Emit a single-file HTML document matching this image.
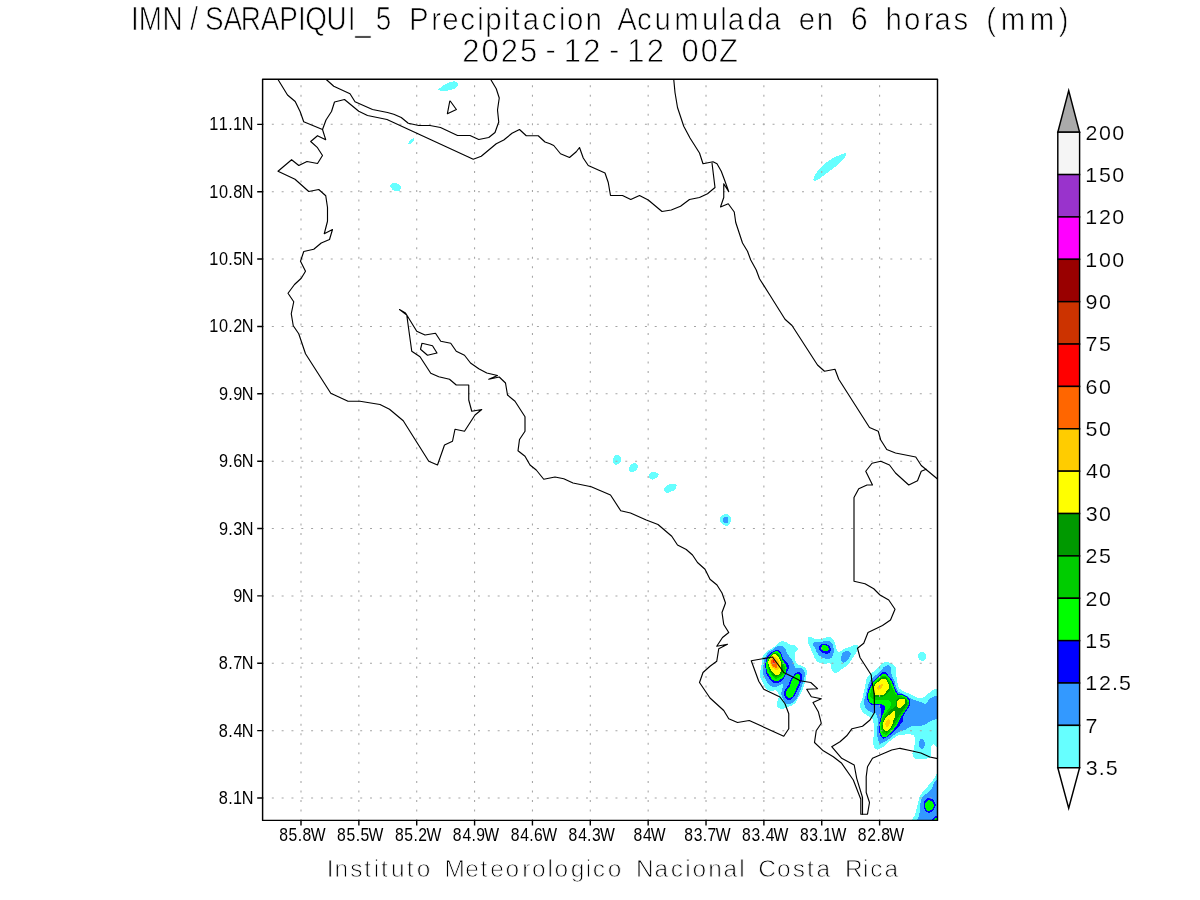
<!DOCTYPE html>
<html lang="es"><head><meta charset="utf-8"><title>IMN/SARAPIQUI_5 Precipitacion Acumulada en 6 horas (mm)</title>
<style>html,body{margin:0;padding:0;background:#fff}body{width:1200px;height:900px;overflow:hidden}svg{display:block}text{font-family:"Liberation Sans",sans-serif;fill:#000}.tt text{stroke:#fff;stroke-width:.75px}.ft text{fill:#000;stroke:#fff;stroke-width:.8px}.cb text{stroke:#fff;stroke-width:.15px}</style></head><body>
<svg width="1200" height="900" viewBox="0 0 1200 900">
<rect width="1200" height="900" fill="#fff"/>
<g class="tt">
<text transform="translate(0 30) scale(0.85 1)" x="154.02 163.2 191.29 223.73 241.33 262.96 283.32 306.82 328.44 350.62 359.21 384.07 409.1 418.1 441.97" dy="0 0 0 0 0 0 0 0 0 0 0 0 0 1 -1" font-size="32.8">IMN/SARAPIQUI_5</text>
<text transform="translate(0 30) scale(0.93 1)" x="439.93 463.71 475.56 494.92 513.24 521.65 541.43 550.33 562.06 582.65 600.97 609.77 629.62" font-size="31.6">Precipitacion</text>
<text transform="translate(0 30) scale(0.93 1)" x="663.83 685 703.77 725.02 754.95 774.34 782.44 803.39 822.13" font-size="31.6">Acumulada</text>
<text transform="translate(0 30) scale(0.93 1)" x="858.87 878.19" font-size="31.6">en</text>
<text transform="translate(0 30) scale(0.93 1)" x="914.86" font-size="32.8">6</text>
<text transform="translate(0 30) scale(0.93 1)" x="952.27 972.19 993.24 1004.9 1025.36" font-size="31.6">horas</text>
<text transform="translate(0 30) scale(0.93 1)" x="1060.52 1075.95 1107.28 1138.43" font-size="31.6">(mm)</text>
<text transform="translate(0 62.1) scale(0.95 1)" x="486.51 506.76 527.01 547.25 574.12 593.41 614.07 640.93 660.22 680.88" dy="0 0 0 0 -1.2 1.2 0 -1.2 1.2 0" font-size="32.6">2025-12-12</text>
<text transform="translate(0 62.1) scale(0.95 1)" x="717.32 737.57 756.92" font-size="32.6">00Z</text>
</g>
<defs><clipPath id="fr"><rect x="262.6" y="79.3" width="674.9" height="741.1"/></clipPath></defs>
<g clip-path="url(#fr)" shape-rendering="crispEdges">
<path fill="#66ffff" d="M438 90C437.38 89.37 439.72 88.17 441.3 87C442.88 85.83 445.42 83.95 447.5 83C449.58 82.05 452.13 81.3 453.8 81.3C455.47 81.3 456.97 82.05 457.5 83C458.03 83.95 457.83 85.92 457 87C456.17 88.08 454.5 88.87 452.5 89.5C450.5 90.13 447.42 90.72 445 90.8C442.58 90.88 438.62 90.63 438 90Z"/>
<path fill="#66ffff" d="M408.2 143.9C408.37 143.22 409.28 141.3 410.2 140.3C411.12 139.3 413.07 137.98 413.7 137.9C414.33 137.82 414.35 138.95 414 139.8C413.65 140.65 412.4 142.23 411.6 143C410.8 143.77 409.77 144.25 409.2 144.4C408.63 144.55 408.03 144.58 408.2 143.9Z"/>
<path fill="#66ffff" d="M390 185C390.33 184.03 392.33 183.12 393.8 183C395.27 182.88 397.55 183.63 398.8 184.3C400.05 184.97 401.18 185.92 401.3 187C401.42 188.08 400.55 190.08 399.5 190.8C398.45 191.52 396.28 191.63 395 191.3C393.72 190.97 392.63 189.85 391.8 188.8C390.97 187.75 389.67 185.97 390 185Z"/>
<path fill="#66ffff" d="M813.25 179.5C813.33 178.08 815.33 174.46 817 172C818.67 169.54 820.75 166.96 823.25 164.75C825.75 162.54 829 160.46 832 158.75C835 157.04 838.88 155.42 841.25 154.5C843.62 153.58 845.71 152.67 846.25 153.25C846.79 153.83 845.83 156.12 844.5 158C843.17 159.88 840.54 162.46 838.25 164.5C835.96 166.54 833.25 168.38 830.75 170.25C828.25 172.12 825.62 174.04 823.25 175.75C820.88 177.46 818.17 179.88 816.5 180.5C814.83 181.12 813.17 180.92 813.25 179.5Z"/>
<path fill="#66ffff" d="M616.92 455.03C617.85 454.97 619.15 455.32 619.83 456.08C620.51 456.84 621 458.41 621 459.58C621 460.75 620.61 462.2 619.83 463.08C619.05 463.95 617.34 464.77 616.33 464.83C615.32 464.89 614.31 464.25 613.77 463.43C613.23 462.61 612.99 461.1 613.07 459.93C613.15 458.76 613.59 457.25 614.23 456.43C614.87 455.61 615.99 455.09 616.92 455.03Z"/>
<path fill="#66ffff" d="M633.83 463.08C634.8 462.98 636.07 463.57 636.75 464.25C637.43 464.93 638.12 466.1 637.92 467.17C637.72 468.24 636.55 469.85 635.58 470.67C634.61 471.49 633.11 472.07 632.08 472.07C631.05 472.07 629.88 471.39 629.4 470.67C628.91 469.95 628.92 468.72 629.17 467.75C629.42 466.78 630.14 465.61 630.92 464.83C631.7 464.05 632.86 463.18 633.83 463.08Z"/>
<path fill="#66ffff" d="M653.08 472.07C654.21 471.99 656.24 472.32 657.17 472.77C658.1 473.22 658.78 473.93 658.68 474.75C658.58 475.57 657.51 476.85 656.58 477.67C655.65 478.49 654.19 479.55 653.08 479.65C651.97 479.75 650.61 478.93 649.93 478.25C649.25 477.57 648.92 476.41 649 475.57C649.08 474.73 649.72 473.81 650.4 473.23C651.08 472.65 651.95 472.15 653.08 472.07Z"/>
<path fill="#66ffff" d="M670 484.08C671.42 483.79 674.14 483.79 675.25 484.08C676.36 484.37 676.65 484.95 676.65 485.83C676.65 486.7 676.16 488.36 675.25 489.33C674.34 490.3 672.53 491.09 671.17 491.67C669.81 492.25 668.21 492.93 667.08 492.83C665.95 492.73 664.85 491.82 664.4 491.08C663.95 490.34 664.01 489.27 664.4 488.4C664.79 487.52 665.8 486.55 666.73 485.83C667.66 485.11 668.58 484.37 670 484.08Z"/>
<path fill="#66ffff" d="M725.42 514.07C726.53 514.03 728.01 514.36 728.92 515C729.83 515.64 730.61 516.75 730.9 517.92C731.19 519.09 731 520.83 730.67 522C730.34 523.17 729.79 524.3 728.92 524.92C728.04 525.54 726.53 525.83 725.42 525.73C724.31 525.63 723.11 525.05 722.27 524.33C721.43 523.61 720.71 522.55 720.4 521.42C720.09 520.29 720.09 518.6 720.4 517.57C720.71 516.54 721.43 515.81 722.27 515.23C723.11 514.65 724.31 514.11 725.42 514.07Z"/>
<path fill="#3399ff" d="M723.9 517.1C724.64 516.58 727.01 516.58 727.75 517.1C728.49 517.62 728.33 519.34 728.33 520.25C728.33 521.16 728.43 522.19 727.75 522.58C727.07 522.97 724.99 522.97 724.25 522.58C723.51 522.19 723.38 521.16 723.32 520.25C723.26 519.34 723.16 517.62 723.9 517.1Z"/>
<path fill="#66ffff" d="M922.08 652.08C923.05 652.08 924.35 652.63 925 653.33C925.65 654.03 926 655.21 926 656.25C926 657.29 925.65 658.82 925 659.58C924.35 660.34 923.05 660.83 922.08 660.83C921.11 660.83 919.82 660.34 919.17 659.58C918.52 658.82 918.17 657.29 918.17 656.25C918.17 655.21 918.52 654.03 919.17 653.33C919.82 652.63 921.11 652.08 922.08 652.08Z"/>
<path fill="#66ffff" d="M782.92 641.25C784.03 641.32 785.35 641.88 786.67 642.5C787.99 643.12 789.44 644.51 790.83 645C792.22 645.49 793.89 644.87 795 645.42C796.11 645.97 797.15 647.43 797.5 648.33C797.85 649.23 797.5 650.07 797.08 650.83C796.66 651.6 795.35 651.53 795 652.92C794.65 654.31 794.58 657.29 795 659.17C795.42 661.04 796.39 663.06 797.5 664.17C798.61 665.28 800.28 665.14 801.67 665.83C803.06 666.52 805 667.22 805.83 668.33C806.66 669.44 806.67 670.56 806.67 672.5C806.67 674.44 806.25 677.92 805.83 680C805.41 682.08 804.86 683.06 804.17 685C803.48 686.94 802.64 689.59 801.67 691.67C800.7 693.75 799.44 695.56 798.33 697.5C797.22 699.44 796.25 701.94 795 703.33C793.75 704.72 792.22 705.13 790.83 705.83C789.44 706.53 787.92 707.01 786.67 707.5C785.42 707.99 784.44 708.54 783.33 708.75C782.22 708.96 780.97 709.1 780 708.75C779.03 708.4 777.99 707.57 777.5 706.67C777.01 705.77 777.01 704.58 777.08 703.33C777.15 702.08 777.57 700.35 777.92 699.17C778.27 697.99 779.38 697.64 779.17 696.25C778.96 694.86 777.5 691.8 776.67 690.83C775.84 689.86 775.28 690.42 774.17 690.42C773.06 690.42 771.39 691.18 770 690.83C768.61 690.48 766.8 689.3 765.83 688.33C764.86 687.36 765 686.53 764.17 685C763.34 683.47 761.6 680.97 760.83 679.17C760.07 677.37 759.58 675.98 759.58 674.17C759.58 672.36 760.41 670.28 760.83 668.33C761.25 666.38 761.8 664.31 762.08 662.5C762.36 660.69 762.01 659.03 762.5 657.5C762.99 655.97 763.89 654.58 765 653.33C766.11 652.08 767.78 650.97 769.17 650C770.56 649.03 771.94 648.47 773.33 647.5C774.72 646.53 776.39 645.07 777.5 644.17C778.61 643.27 779.1 642.57 780 642.08C780.9 641.59 781.81 641.18 782.92 641.25Z"/>
<path fill="#3399ff" d="M780 646.25C781.11 646.25 782.36 646.04 783.33 646.67C784.3 647.29 785.13 648.75 785.83 650C786.53 651.25 786.67 652.78 787.5 654.17C788.33 655.56 789.86 656.94 790.83 658.33C791.8 659.72 792.77 661.25 793.33 662.5C793.89 663.75 793.61 664.86 794.17 665.83C794.73 666.8 795.42 667.91 796.67 668.33C797.92 668.75 800.42 667.91 801.67 668.33C802.92 668.75 803.62 669.86 804.17 670.83C804.72 671.8 805.07 672.64 805 674.17C804.93 675.7 804.31 677.92 803.75 680C803.19 682.08 802.43 684.45 801.67 686.67C800.91 688.89 800.14 691.11 799.17 693.33C798.2 695.55 797.08 698.33 795.83 700C794.58 701.67 792.92 702.63 791.67 703.33C790.42 704.03 789.44 704.31 788.33 704.17C787.22 704.03 785.97 703.47 785 702.5C784.03 701.53 783.12 699.86 782.5 698.33C781.88 696.8 781.25 695 781.25 693.33C781.25 691.66 782.15 689.86 782.5 688.33C782.85 686.8 783.75 684.72 783.33 684.17C782.91 683.62 781.11 684.58 780 685C778.89 685.42 777.92 686.39 776.67 686.67C775.42 686.95 773.89 687.09 772.5 686.67C771.11 686.25 769.58 685.56 768.33 684.17C767.08 682.78 765.9 680.14 765 678.33C764.1 676.52 763.2 675.27 762.92 673.33C762.64 671.39 763.12 668.75 763.33 666.67C763.54 664.59 763.75 662.64 764.17 660.83C764.59 659.02 765 657.36 765.83 655.83C766.66 654.3 767.92 652.78 769.17 651.67C770.42 650.56 772.08 650 773.33 649.17C774.58 648.34 775.56 647.16 776.67 646.67C777.78 646.18 778.89 646.25 780 646.25Z"/>
<path fill="#0000ff" d="M775.83 650C777.29 649.65 778.61 650.13 779.58 650.83C780.55 651.53 781.04 652.78 781.67 654.17C782.29 655.56 782.5 657.78 783.33 659.17C784.16 660.56 785.7 661.39 786.67 662.5C787.64 663.61 788.75 664.86 789.17 665.83C789.59 666.8 789.59 667.22 789.17 668.33C788.75 669.44 787.37 671.11 786.67 672.5C785.97 673.89 785.83 675.28 785 676.67C784.17 678.06 783.06 679.72 781.67 680.83C780.28 681.94 778.06 683.05 776.67 683.33C775.28 683.61 774.58 683.33 773.33 682.5C772.08 681.67 770.35 679.86 769.17 678.33C767.99 676.8 766.88 675.27 766.25 673.33C765.62 671.39 765.49 668.75 765.42 666.67C765.35 664.59 765.62 662.36 765.83 660.83C766.04 659.3 765.84 658.82 766.67 657.5C767.5 656.18 769.3 654.17 770.83 652.92C772.36 651.67 774.37 650.35 775.83 650Z"/>
<path fill="#00ff00" d="M775.83 651.25C777.08 650.97 778.27 651.32 779.17 652.08C780.07 652.84 780.69 654.51 781.25 655.83C781.81 657.15 781.81 658.68 782.5 660C783.19 661.32 784.72 662.5 785.42 663.75C786.12 665 786.6 666.18 786.67 667.5C786.74 668.82 786.25 670.28 785.83 671.67C785.41 673.06 785 674.58 784.17 675.83C783.34 677.08 782.08 678.27 780.83 679.17C779.58 680.07 777.92 681.04 776.67 681.25C775.42 681.46 774.44 681.18 773.33 680.42C772.22 679.66 771.04 678.13 770 676.67C768.96 675.21 767.71 673.48 767.08 671.67C766.46 669.86 766.32 667.64 766.25 665.83C766.18 664.02 766.39 662.15 766.67 660.83C766.95 659.51 767.09 659.1 767.92 657.92C768.75 656.74 770.35 654.86 771.67 653.75C772.99 652.64 774.58 651.53 775.83 651.25Z"/>
<path fill="#00cc00" d="M773.33 652.92C774.44 652.5 776.39 652.43 777.5 652.92C778.61 653.4 779.31 654.65 780 655.83C780.69 657.01 780.97 658.47 781.67 660C782.37 661.53 783.62 663.61 784.17 665C784.72 666.39 785 667.08 785 668.33C785 669.58 784.59 671.39 784.17 672.5C783.75 673.61 783.33 674.17 782.5 675C781.67 675.83 780.28 676.88 779.17 677.5C778.06 678.12 776.8 678.89 775.83 678.75C774.86 678.61 774.3 677.71 773.33 676.67C772.36 675.63 770.83 673.89 770 672.5C769.17 671.11 768.75 670 768.33 668.33C767.91 666.66 767.5 664.03 767.5 662.5C767.5 660.97 767.78 660.35 768.33 659.17C768.88 657.99 770 656.46 770.83 655.42C771.66 654.38 772.22 653.34 773.33 652.92Z"/>
<path fill="#009900" d="M773.33 653.5C774.34 653.22 776.04 653.4 777.08 654C778.12 654.6 778.88 655.87 779.58 657.08C780.28 658.29 780.69 659.79 781.25 661.25C781.81 662.71 782.6 664.37 782.92 665.83C783.24 667.29 783.38 668.68 783.17 670C782.96 671.32 782.54 672.71 781.67 673.75C780.79 674.79 778.96 675.76 777.92 676.25C776.88 676.74 776.25 676.88 775.42 676.67C774.59 676.46 773.75 675.83 772.92 675C772.09 674.17 771.12 672.92 770.42 671.67C769.72 670.42 769.17 669.03 768.75 667.5C768.33 665.97 767.92 663.89 767.92 662.5C767.92 661.11 768.24 660.31 768.75 659.17C769.26 658.03 770.24 656.62 771 655.67C771.76 654.72 772.32 653.78 773.33 653.5Z"/>
<path fill="#ffff00" d="M773.33 654.17C774.23 654.03 775.7 654.31 776.67 655C777.64 655.69 778.48 657.08 779.17 658.33C779.86 659.58 780.48 660.83 780.83 662.5C781.18 664.17 781.25 666.8 781.25 668.33C781.25 669.86 781.18 670.7 780.83 671.67C780.48 672.64 779.86 673.62 779.17 674.17C778.48 674.72 777.5 675.07 776.67 675C775.84 674.93 775 674.44 774.17 673.75C773.34 673.06 772.5 672.01 771.67 670.83C770.84 669.65 769.73 668.06 769.17 666.67C768.61 665.28 768.33 663.75 768.33 662.5C768.33 661.25 768.68 660.28 769.17 659.17C769.66 658.06 770.56 656.66 771.25 655.83C771.94 655 772.43 654.31 773.33 654.17Z"/>
<path fill="#ffcc00" d="M772.92 656.25C773.75 656.18 774.93 656.74 775.83 657.5C776.73 658.26 777.71 659.58 778.33 660.83C778.96 662.08 779.44 663.75 779.58 665C779.72 666.25 779.52 667.5 779.17 668.33C778.82 669.16 778.19 669.79 777.5 670C776.81 670.21 775.83 670 775 669.58C774.17 669.16 773.26 668.4 772.5 667.5C771.74 666.6 770.91 665.28 770.42 664.17C769.93 663.06 769.51 661.87 769.58 660.83C769.65 659.79 770.27 658.68 770.83 657.92C771.39 657.16 772.09 656.32 772.92 656.25Z"/>
<path fill="#ff6600" d="M772.92 658.75C773.54 658.68 774.38 659.24 775 660C775.62 660.76 776.25 662.22 776.67 663.33C777.09 664.44 777.64 665.9 777.5 666.67C777.36 667.43 776.53 667.92 775.83 667.92C775.13 667.92 774.09 667.43 773.33 666.67C772.57 665.9 771.6 664.37 771.25 663.33C770.9 662.29 770.97 661.18 771.25 660.42C771.53 659.66 772.29 658.82 772.92 658.75Z"/>
<path fill="#ff0000" d="M773.33 660C773.68 660.28 774.44 661.88 774.58 662.5C774.72 663.12 774.45 663.68 774.17 663.75C773.89 663.82 773.2 663.41 772.92 662.92C772.64 662.43 772.43 661.32 772.5 660.83C772.57 660.34 772.98 659.72 773.33 660Z"/>
<path fill="#0000ff" d="M798.33 672.08C799.16 672.15 800.21 672.57 800.83 673.33C801.46 674.1 802.01 675.28 802.08 676.67C802.15 678.06 801.88 679.73 801.25 681.67C800.62 683.61 799.37 686.11 798.33 688.33C797.29 690.55 796.11 693.19 795 695C793.89 696.81 792.78 698.34 791.67 699.17C790.56 700 789.37 700.21 788.33 700C787.29 699.79 786.11 699.03 785.42 697.92C784.73 696.81 784.17 694.79 784.17 693.33C784.17 691.87 784.73 690.56 785.42 689.17C786.11 687.78 787.57 686.39 788.33 685C789.09 683.61 789.17 682.36 790 680.83C790.83 679.3 792.36 677.15 793.33 675.83C794.3 674.51 795 673.54 795.83 672.92C796.66 672.29 797.5 672.01 798.33 672.08Z"/>
<path fill="#00ff00" d="M797.5 673.75C798.4 673.47 799.16 674.24 799.58 675C800 675.76 800.21 676.8 800 678.33C799.79 679.86 799.16 681.95 798.33 684.17C797.5 686.39 795.97 689.59 795 691.67C794.03 693.75 793.47 695.63 792.5 696.67C791.53 697.71 790.14 697.99 789.17 697.92C788.2 697.85 787.23 697.01 786.67 696.25C786.11 695.49 785.69 694.51 785.83 693.33C785.97 692.15 786.81 690.42 787.5 689.17C788.19 687.92 789.31 687.22 790 685.83C790.69 684.44 790.97 682.36 791.67 680.83C792.37 679.3 793.2 677.85 794.17 676.67C795.14 675.49 796.6 674.03 797.5 673.75Z"/>
<path fill="#66ffff" d="M808.33 637.08C808.89 636.11 810.56 637.15 811.67 637.5C812.78 637.85 813.47 638.89 815 639.17C816.53 639.45 819.16 639.38 820.83 639.17C822.5 638.96 823.61 638.27 825 637.92C826.39 637.57 827.92 636.94 829.17 637.08C830.42 637.22 831.53 637.85 832.5 638.75C833.47 639.65 834.44 641.18 835 642.5C835.56 643.82 835.41 645.28 835.83 646.67C836.25 648.06 836.94 649.86 837.5 650.83C838.06 651.8 838.2 652.78 839.17 652.5C840.14 652.22 841.8 650 843.33 649.17C844.86 648.34 846.66 648.12 848.33 647.5C850 646.88 851.8 645.84 853.33 645.42C854.86 645 856.74 644.65 857.5 645C858.26 645.35 858.06 646.39 857.92 647.5C857.78 648.61 857.29 650.28 856.67 651.67C856.04 653.06 855.14 654.3 854.17 655.83C853.2 657.36 852.08 659.16 850.83 660.83C849.58 662.5 848.2 664.44 846.67 665.83C845.14 667.22 843.2 668.06 841.67 669.17C840.14 670.28 838.61 671.81 837.5 672.5C836.39 673.19 835.9 673.61 835 673.33C834.1 673.05 832.78 671.94 832.08 670.83C831.38 669.72 831.18 667.92 830.83 666.67C830.48 665.42 830.97 663.82 830 663.33C829.03 662.84 826.81 663.89 825 663.75C823.19 663.61 820.7 663.12 819.17 662.5C817.64 661.88 816.8 661.25 815.83 660C814.86 658.75 814.16 656.81 813.33 655C812.5 653.19 811.66 651.12 810.83 649.17C810 647.22 808.75 645.35 808.33 643.33C807.91 641.32 807.77 638.05 808.33 637.08Z"/>
<path fill="#3399ff" d="M814.17 642.08C815.21 641.8 817.5 642.64 819.17 642.5C820.84 642.36 822.5 641.46 824.17 641.25C825.84 641.04 827.78 640.76 829.17 641.25C830.56 641.74 831.74 642.85 832.5 644.17C833.26 645.49 833.61 647.5 833.75 649.17C833.89 650.84 833.82 652.64 833.33 654.17C832.84 655.7 832.08 657.57 830.83 658.33C829.58 659.09 827.5 659.03 825.83 658.75C824.16 658.47 822.22 657.57 820.83 656.67C819.44 655.77 818.47 654.72 817.5 653.33C816.53 651.94 815.76 649.86 815 648.33C814.24 646.8 813.06 645.21 812.92 644.17C812.78 643.13 813.13 642.36 814.17 642.08Z"/>
<path fill="#0000ff" d="M821.67 644.17C822.78 643.82 824.58 643.89 825.83 644.17C827.08 644.45 828.34 645 829.17 645.83C830 646.66 830.76 647.99 830.83 649.17C830.9 650.35 830.41 652.16 829.58 652.92C828.75 653.68 827.15 653.89 825.83 653.75C824.51 653.61 822.78 652.78 821.67 652.08C820.56 651.38 819.59 650.55 819.17 649.58C818.75 648.61 818.75 647.15 819.17 646.25C819.59 645.35 820.56 644.52 821.67 644.17Z"/>
<path fill="#00ff00" d="M823.75 645C824.51 645 825.84 645.34 826.67 645.83C827.5 646.32 828.47 647.15 828.75 647.92C829.03 648.68 828.96 649.91 828.33 650.42C827.71 650.93 826.04 651.07 825 651C823.96 650.93 822.71 650.51 822.08 650C821.46 649.49 821.25 648.62 821.25 647.92C821.25 647.22 821.66 646.32 822.08 645.83C822.5 645.34 822.99 645 823.75 645Z"/>
<path fill="#3399ff" d="M845 651.25C845.97 650.9 847.36 650.9 848.33 651.25C849.3 651.6 850.55 652.43 850.83 653.33C851.11 654.23 850.56 655.56 850 656.67C849.44 657.78 848.47 659.03 847.5 660C846.53 660.97 845.14 662.22 844.17 662.5C843.2 662.78 842.16 662.5 841.67 661.67C841.18 660.84 841.11 658.89 841.25 657.5C841.39 656.11 841.88 654.37 842.5 653.33C843.12 652.29 844.03 651.6 845 651.25Z"/>
<path fill="#66ffff" d="M886.67 662.08C888.06 662.15 890.14 662.43 891.67 663.33C893.2 664.23 895.07 665.97 895.83 667.5C896.59 669.03 896.11 670.69 896.25 672.5C896.39 674.31 896.39 676.25 896.67 678.33C896.95 680.41 897.5 683.33 897.92 685C898.34 686.67 898.27 687.29 899.17 688.33C900.07 689.37 901.8 690.42 903.33 691.25C904.86 692.08 906.66 692.57 908.33 693.33C910 694.09 911.66 695.07 913.33 695.83C915 696.6 916.8 697.57 918.33 697.92C919.86 698.27 921.11 698.41 922.5 697.92C923.89 697.43 925.14 696.18 926.67 695C928.2 693.82 930 691.87 931.67 690.83C933.34 689.79 935 689.31 936.67 688.75C938.34 688.19 940.84 678.26 941.67 687.5C942.5 696.74 943.06 734.72 941.67 744.17C940.28 753.62 935.07 743.75 933.33 744.17C931.59 744.59 931.6 745.14 931.25 746.67C930.9 748.2 931.46 751.53 931.25 753.33C931.04 755.13 931.04 756.6 930 757.5C928.96 758.4 927.36 758.54 925 758.75C922.64 758.96 917.78 759.1 915.83 758.75C913.88 758.4 913.88 757.57 913.33 756.67C912.78 755.77 912.36 754.86 912.5 753.33C912.64 751.8 913.75 749.72 914.17 747.5C914.59 745.28 915 741.94 915 740C915 738.06 915 736.8 914.17 735.83C913.34 734.86 911.67 734.38 910 734.17C908.33 733.96 906.12 734.37 904.17 734.58C902.22 734.79 900.14 734.79 898.33 735.42C896.52 736.04 895 737.15 893.33 738.33C891.66 739.51 890 741.11 888.33 742.5C886.66 743.89 884.86 745.56 883.33 746.67C881.8 747.78 880.42 748.75 879.17 749.17C877.92 749.59 876.73 749.73 875.83 749.17C874.93 748.61 874.24 747.36 873.75 745.83C873.26 744.3 872.85 742.08 872.92 740C872.99 737.92 874.03 735.41 874.17 733.33C874.31 731.25 873.89 729.44 873.75 727.5C873.61 725.56 873.68 723.2 873.33 721.67C872.98 720.14 872.64 719.3 871.67 718.33C870.7 717.36 868.89 716.8 867.5 715.83C866.11 714.86 864.51 713.75 863.33 712.5C862.15 711.25 860.97 709.86 860.42 708.33C859.87 706.8 860 704.16 860 703.33C860 702.5 860 704.16 860.42 703.33C860.84 702.5 861.94 700.27 862.5 698.33C863.06 696.39 863.26 693.89 863.75 691.67C864.24 689.45 864.93 687.22 865.42 685C865.91 682.78 865.91 680.13 866.67 678.33C867.43 676.53 868.61 675.42 870 674.17C871.39 672.92 873.47 672.22 875 670.83C876.53 669.44 877.78 667.15 879.17 665.83C880.56 664.51 882.08 663.54 883.33 662.92C884.58 662.29 885.28 662.01 886.67 662.08Z"/>
<path fill="#3399ff" d="M887.92 665C889.17 665 890.28 666.25 890.83 667.5C891.38 668.75 890.97 670.97 891.25 672.5C891.53 674.03 891.88 675.14 892.5 676.67C893.12 678.2 894.44 680 895 681.67C895.56 683.34 895.28 685 895.83 686.67C896.38 688.34 897.08 690.42 898.33 691.67C899.58 692.92 901.66 693.34 903.33 694.17C905 695 906.94 695.84 908.33 696.67C909.72 697.5 910.28 698.48 911.67 699.17C913.06 699.86 914.87 700.28 916.67 700.83C918.47 701.38 920.97 702.01 922.5 702.5C924.03 702.99 924.72 704.31 925.83 703.75C926.94 703.19 927.92 700.35 929.17 699.17C930.42 697.99 932.08 697.23 933.33 696.67C934.58 696.11 935.28 696.04 936.67 695.83C938.06 695.62 940.84 691.6 941.67 695.42C942.5 699.24 942.5 714.79 941.67 718.75C940.84 722.71 938.06 718.96 936.67 719.17C935.28 719.38 934.72 719.44 933.33 720C931.94 720.56 930.27 721.53 928.33 722.5C926.39 723.47 923.89 725.28 921.67 725.83C919.45 726.38 916.94 725.69 915 725.83C913.06 725.97 911.67 725.97 910 726.67C908.33 727.37 906.81 729.17 905 730C903.19 730.83 900.84 730.97 899.17 731.67C897.5 732.37 896.53 733.06 895 734.17C893.47 735.28 891.67 737.08 890 738.33C888.33 739.58 886.67 740.77 885 741.67C883.33 742.57 881.11 744.03 880 743.75C878.89 743.47 878.82 741.6 878.33 740C877.84 738.4 877.36 736.12 877.08 734.17C876.8 732.22 876.46 730.14 876.67 728.33C876.88 726.52 878.19 725.13 878.33 723.33C878.47 721.53 877.92 719.17 877.5 717.5C877.08 715.83 876.66 714.16 875.83 713.33C875 712.5 873.89 713.06 872.5 712.5C871.11 711.94 868.82 711.11 867.5 710C866.18 708.89 865.13 707.63 864.58 705.83C864.03 704.03 864.1 700.42 864.17 699.17C864.24 697.92 864.58 699.58 865 698.33C865.42 697.08 866.12 693.89 866.67 691.67C867.22 689.45 867.64 687.08 868.33 685C869.02 682.92 869.72 680.7 870.83 679.17C871.94 677.64 873.33 677.22 875 675.83C876.67 674.44 879.44 672.22 880.83 670.83C882.22 669.44 882.15 668.47 883.33 667.5C884.51 666.53 886.67 665 887.92 665Z"/>
<path fill="#3399ff" d="M921.67 738.75C922.32 738.75 923.19 739.1 923.75 740C924.31 740.9 925 742.85 925 744.17C925 745.49 924.38 747.16 923.75 747.92C923.12 748.68 921.99 748.89 921.25 748.75C920.51 748.61 919.71 747.98 919.33 747.08C918.96 746.18 918.92 744.51 919 743.33C919.08 742.15 919.38 740.76 919.83 740C920.28 739.24 921.02 738.75 921.67 738.75Z"/>
<path fill="#0000ff" d="M884 672C884.83 671.88 885.25 671.92 886 672.5C886.75 673.08 887.67 674.5 888.5 675.5C889.33 676.5 890.25 677.42 891 678.5C891.75 679.58 892.42 680.67 893 682C893.58 683.33 894 685.08 894.5 686.5C895 687.92 895.42 689.33 896 690.5C896.58 691.67 897.08 692.88 898 693.5C898.92 694.12 900.33 693.96 901.5 694.25C902.67 694.54 903.92 694.71 905 695.25C906.08 695.79 907.17 696.71 908 697.5C908.83 698.29 909.67 699.58 910 700C910.33 700.42 910 699.17 910 700C910 700.83 910.33 703.58 910 705C909.67 706.42 908.83 707.17 908 708.5C907.17 709.83 905.83 711.58 905 713C904.17 714.42 903.33 715.67 903 717C902.67 718.33 903.5 719.67 903 721C902.5 722.33 901 723.75 900 725C899 726.25 898 727.33 897 728.5C896 729.67 895.17 730.92 894 732C892.83 733.08 891.17 734.17 890 735C888.83 735.83 888 736.42 887 737C886 737.58 884.83 738.33 884 738.5C883.17 738.67 882.67 738.58 882 738C881.33 737.42 880.5 736.33 880 735C879.5 733.67 879.17 731.67 879 730C878.83 728.33 878.83 726.67 879 725C879.17 723.33 879.67 721.67 880 720C880.33 718.33 880.79 716.42 881 715C881.21 713.58 881.33 712.67 881.25 711.5C881.17 710.33 880.75 709.04 880.5 708C880.25 706.96 880.42 705.77 879.75 705.25C879.08 704.73 877.71 704.94 876.5 704.9C875.29 704.86 873.75 705.32 872.5 705C871.25 704.68 869.83 703.83 869 703C868.17 702.17 867.83 701 867.5 700C867.17 699 867 698.17 867 697C867 695.83 867.25 694.25 867.5 693C867.75 691.75 868.08 690.67 868.5 689.5C868.92 688.33 869.42 687.17 870 686C870.58 684.83 871.17 683.58 872 682.5C872.83 681.42 873.92 680.58 875 679.5C876.08 678.42 877.5 677.04 878.5 676C879.5 674.96 880.08 673.92 881 673.25C881.92 672.58 883.17 672.12 884 672Z"/>
<path fill="#00ff00" d="M884 673.75C884.75 673.67 885.33 673.79 886 674.25C886.67 674.71 887.25 675.62 888 676.5C888.75 677.38 889.75 678.33 890.5 679.5C891.25 680.67 891.92 682.17 892.5 683.5C893.08 684.83 893.5 686.17 894 687.5C894.5 688.83 894.92 690.33 895.5 691.5C896.08 692.67 896.5 693.92 897.5 694.5C898.5 695.08 900.25 694.71 901.5 695C902.75 695.29 904 695.67 905 696.25C906 696.83 906.88 697.71 907.5 698.5C908.12 699.29 908.46 700.58 908.75 701C909.04 701.42 909.21 700.42 909.25 701C909.29 701.58 909.38 703.33 909 704.5C908.62 705.67 907.83 706.67 907 708C906.17 709.33 905 711 904 712.5C903 714 901.83 715.58 901 717C900.17 718.42 899.67 719.67 899 721C898.33 722.33 897.83 723.67 897 725C896.17 726.33 895.17 727.67 894 729C892.83 730.33 891.17 731.75 890 733C888.83 734.25 888.17 735.83 887 736.5C885.83 737.17 884 737.33 883 737C882 736.67 881.5 735.67 881 734.5C880.5 733.33 880.17 731.58 880 730C879.83 728.42 879.83 726.67 880 725C880.17 723.33 880.58 721.58 881 720C881.42 718.42 882 716.92 882.5 715.5C883 714.08 883.58 712.83 884 711.5C884.42 710.17 885 708.5 885 707.5C885 706.5 884.83 706.08 884 705.5C883.17 704.92 881.67 704.25 880 704C878.33 703.75 875.58 704.17 874 704C872.42 703.83 871.38 703.67 870.5 703C869.62 702.33 869.17 701 868.75 700C868.33 699 868.04 698.08 868 697C867.96 695.92 868.25 694.67 868.5 693.5C868.75 692.33 869.08 691.17 869.5 690C869.92 688.83 870.42 687.67 871 686.5C871.58 685.33 872.25 684 873 683C873.75 682 874.5 681.5 875.5 680.5C876.5 679.5 878 677.96 879 677C880 676.04 880.67 675.29 881.5 674.75C882.33 674.21 883.25 673.83 884 673.75Z"/>
<path fill="#00cc00" d="M883.5 675.5C884.33 675.46 885.25 675.67 886 676.25C886.75 676.83 887.25 677.88 888 679C888.75 680.12 889.83 681.67 890.5 683C891.17 684.33 891.42 685.58 892 687C892.58 688.42 893.25 690.17 894 691.5C894.75 692.83 895.5 694.25 896.5 695C897.5 695.75 898.75 695.67 900 696C901.25 696.33 902.92 696.5 904 697C905.08 697.5 905.92 698.25 906.5 699C907.08 699.75 907.17 701.08 907.5 701.5C907.83 701.92 908.33 701.08 908.5 701.5C908.67 701.92 908.75 703.08 908.5 704C908.25 704.92 907.67 705.83 907 707C906.33 708.17 905.42 709.58 904.5 711C903.58 712.42 902.5 714 901.5 715.5C900.5 717 899.42 718.58 898.5 720C897.58 721.42 896.92 722.67 896 724C895.08 725.33 894.08 726.67 893 728C891.92 729.33 890.58 730.92 889.5 732C888.42 733.08 887.42 734.17 886.5 734.5C885.58 734.83 884.75 734.42 884 734C883.25 733.58 882.5 733 882 732C881.5 731 881.17 729.5 881 728C880.83 726.5 880.83 724.5 881 723C881.17 721.5 881.5 720.33 882 719C882.5 717.67 883.17 716.33 884 715C884.83 713.67 886 712.33 887 711C888 709.67 889.33 708.33 890 707C890.67 705.67 891 703.83 891 703C891 702.17 890.5 702.5 890 702C889.5 701.5 889 700.33 888 700C887 699.67 885.33 700 884 700C882.67 700 881.5 700.08 880 700C878.5 699.92 876.42 699.83 875 699.5C873.58 699.17 872.29 698.58 871.5 698C870.71 697.42 870.42 696.83 870.25 696C870.08 695.17 870.29 694.08 870.5 693C870.71 691.92 871.08 690.67 871.5 689.5C871.92 688.33 872.42 687.17 873 686C873.58 684.83 874.08 683.67 875 682.5C875.92 681.33 877.5 680 878.5 679C879.5 678 880.17 677.08 881 676.5C881.83 675.92 882.67 675.54 883.5 675.5Z"/>
<path fill="#009900" d="M883.5 677C884.5 676.83 885.25 676.92 886 677.5C886.75 678.08 887.33 679.25 888 680.5C888.67 681.75 889.58 683.58 890 685C890.42 686.42 890.75 687.83 890.5 689C890.25 690.17 889.33 691 888.5 692C887.67 693 886.5 694.17 885.5 695C884.5 695.83 883.58 696.58 882.5 697C881.42 697.42 880.08 697.5 879 697.5C877.92 697.5 876.83 697.42 876 697C875.17 696.58 874.5 695.83 874 695C873.5 694.17 873.17 693.17 873 692C872.83 690.83 872.75 689.25 873 688C873.25 686.75 873.83 685.58 874.5 684.5C875.17 683.42 876.08 682.5 877 681.5C877.92 680.5 878.92 679.25 880 678.5C881.08 677.75 882.5 677.17 883.5 677Z"/>
<path fill="#009900" d="M899.5 698C900.75 697.75 903.33 697.67 904.5 698C905.67 698.33 906.08 699.17 906.5 700C906.92 700.83 906.92 702.42 907 703C907.08 703.58 907.25 702.92 907 703.5C906.75 704.08 906.17 705.42 905.5 706.5C904.83 707.58 903.92 708.67 903 710C902.08 711.33 901 713 900 714.5C899 716 897.92 717.58 897 719C896.08 720.42 895.33 721.67 894.5 723C893.67 724.33 892.92 725.75 892 727C891.08 728.25 889.92 729.58 889 730.5C888.08 731.42 887.33 732.33 886.5 732.5C885.67 732.67 884.67 732.08 884 731.5C883.33 730.92 882.75 730.08 882.5 729C882.25 727.92 882.33 726.42 882.5 725C882.67 723.58 883.08 721.92 883.5 720.5C883.92 719.08 884.25 717.75 885 716.5C885.75 715.25 886.83 714.25 888 713C889.17 711.75 890.83 710.08 892 709C893.17 707.92 894.33 707.33 895 706.5C895.67 705.67 895.92 704.58 896 704C896.08 703.42 895.33 703.75 895.5 703C895.67 702.25 896.33 700.33 897 699.5C897.67 698.67 898.25 698.25 899.5 698Z"/>
<path fill="#ffff00" d="M882.5 679C883.33 678.92 884.71 678.83 885.5 679.25C886.29 679.67 886.67 680.46 887.25 681.5C887.83 682.54 888.79 684.25 889 685.5C889.21 686.75 889 687.92 888.5 689C888 690.08 886.92 691 886 692C885.08 693 884.17 694.42 883 695C881.83 695.58 880.25 695.58 879 695.5C877.75 695.42 876.29 695.08 875.5 694.5C874.71 693.92 874.5 693 874.25 692C874 691 873.88 689.67 874 688.5C874.12 687.33 874.33 686.08 875 685C875.67 683.92 877.08 682.88 878 682C878.92 681.12 879.75 680.25 880.5 679.75C881.25 679.25 881.67 679.08 882.5 679Z"/>
<path fill="#ffcc00" d="M882 684C882.5 684 883 684.5 883 685C883 685.5 882.42 686.33 882 687C881.58 687.67 881.17 688.54 880.5 689C879.83 689.46 878.54 689.83 878 689.75C877.46 689.67 877.25 689.04 877.25 688.5C877.25 687.96 877.54 687.08 878 686.5C878.46 685.92 879.33 685.42 880 685C880.67 684.58 881.5 684 882 684Z"/>
<path fill="#ffff00" d="M899.5 699C900.46 698.83 903.04 698.75 904 699C904.96 699.25 905.08 699.75 905.25 700.5C905.42 701.25 905.46 702.58 905 703.5C904.54 704.42 903.33 705.25 902.5 706C901.67 706.75 900.75 707.75 900 708C899.25 708.25 898.5 708 898 707.5C897.5 707 897.12 705.92 897 705C896.88 704.08 897.04 702.83 897.25 702C897.46 701.17 897.88 700.5 898.25 700C898.62 699.5 898.54 699.17 899.5 699Z"/>
<path fill="#ffff00" d="M894.5 711C895 711 894.92 711.58 895 712.5C895.08 713.42 895.25 715.17 895 716.5C894.75 717.83 893.92 719.17 893.5 720.5C893.08 721.83 893 723.25 892.5 724.5C892 725.75 891.25 727 890.5 728C889.75 729 888.83 730.08 888 730.5C887.17 730.92 886.25 730.83 885.5 730.5C884.75 730.17 883.92 729.5 883.5 728.5C883.08 727.5 882.92 725.83 883 724.5C883.08 723.17 883.5 721.67 884 720.5C884.5 719.33 885.17 718.42 886 717.5C886.83 716.58 888 715.83 889 715C890 714.17 891.08 713.17 892 712.5C892.92 711.83 894 711 894.5 711Z"/>
<path fill="#ffcc00" d="M888.5 719C889 719 889.83 720.17 890 721C890.17 721.83 889.75 723.08 889.5 724C889.25 724.92 889 726.08 888.5 726.5C888 726.92 887.08 726.83 886.5 726.5C885.92 726.17 885.17 725.17 885 724.5C884.83 723.83 885.17 723.08 885.5 722.5C885.83 721.92 886.5 721.58 887 721C887.5 720.42 888 719 888.5 719Z"/>
<path fill="#66ffff" d="M942.22 767.22C941.33 759.3 938.37 771.82 936.89 773.89C935.41 775.96 934.66 777.82 933.33 779.67C932 781.52 930.37 783.22 928.89 785C927.41 786.78 925.92 788.55 924.44 790.33C922.96 792.11 921.04 793.74 920 795.67C918.96 797.6 918.78 799.82 918.22 801.89C917.66 803.96 917.12 806.04 916.62 808.11C916.12 810.18 915.62 812.11 915.2 814.33C914.79 816.55 909.63 820.26 914.13 821.44C918.63 822.62 937.54 830.48 942.22 821.44C946.9 812.4 943.11 775.14 942.22 767.22Z"/>
<path fill="#3399ff" d="M942.22 773.44C941.33 766.48 938.37 777.89 936.89 779.67C935.41 781.45 934.22 782.48 933.33 784.11C932.44 785.74 932.74 787.81 931.56 789.44C930.38 791.07 927.85 792.41 926.22 793.89C924.59 795.37 922.74 796.7 921.78 798.33C920.82 799.96 920.74 801.74 920.44 803.67C920.14 805.6 920.22 807.82 920 809.89C919.78 811.96 919.32 814.18 919.11 816.11C918.9 818.04 914.91 820.55 918.76 821.44C922.61 822.33 938.31 829.44 942.22 821.44C946.13 813.44 943.11 780.4 942.22 773.44Z"/>
<path fill="#0000ff" d="M928.89 797.89C930 797.89 931.4 798.4 932.44 799.22C933.48 800.04 934.59 801.6 935.11 802.78C935.63 803.96 935.86 805.14 935.56 806.33C935.26 807.52 934.29 808.85 933.33 809.89C932.37 810.93 930.96 812.26 929.78 812.56C928.6 812.86 927.18 812.41 926.22 811.67C925.26 810.93 924.37 809.59 924 808.11C923.63 806.63 923.7 804.26 924 802.78C924.3 801.3 924.96 800.04 925.78 799.22C926.6 798.4 927.78 797.89 928.89 797.89Z"/>
<path fill="#00ff00" d="M929.33 800.11C930.14 800.26 931.26 801.15 932 801.89C932.74 802.63 933.63 803.52 933.78 804.56C933.93 805.6 933.56 807.07 932.89 808.11C932.22 809.15 930.74 810.41 929.78 810.78C928.82 811.15 927.85 810.92 927.11 810.33C926.37 809.74 925.63 808.33 925.33 807.22C925.03 806.11 925.03 804.71 925.33 803.67C925.63 802.63 926.44 801.59 927.11 801C927.78 800.41 928.52 799.96 929.33 800.11Z"/>
<path fill="#0000ff" d="M931.56 821.44C930.08 820.85 932.66 818.81 933.33 817.89C934 816.97 934.08 816.38 935.56 815.93C937.04 815.48 941.11 814.3 942.22 815.22C943.33 816.14 944 820.4 942.22 821.44C940.44 822.48 933.04 822.03 931.56 821.44Z"/>
<path fill="#00ff00" d="M933.6 821.44C932.34 821 934.24 819.4 934.67 818.78C935.1 818.16 934.92 817.93 936.18 817.71C937.44 817.49 941.21 816.82 942.22 817.44C943.23 818.06 943.66 820.77 942.22 821.44C940.78 822.11 934.86 821.88 933.6 821.44Z"/>
</g>
<g stroke="#a4a4a4" stroke-width="1.05" fill="none">
<path d="M262 124.33 H933.5" stroke-dasharray="2 7.818"/>
<path d="M262 191.7 H933.5" stroke-dasharray="2 7.818"/>
<path d="M262 259.07 H933.5" stroke-dasharray="2 7.818"/>
<path d="M262 326.44 H933.5" stroke-dasharray="2 7.818"/>
<path d="M262 393.81 H933.5" stroke-dasharray="2 7.818"/>
<path d="M262 461.18 H933.5" stroke-dasharray="2 7.818"/>
<path d="M262 528.55 H933.5" stroke-dasharray="2 7.818"/>
<path d="M262 595.92 H933.5" stroke-dasharray="2 7.818"/>
<path d="M262 663.29 H933.5" stroke-dasharray="2 7.818"/>
<path d="M262 730.66 H933.5" stroke-dasharray="2 7.818"/>
<path d="M262 798.03 H933.5" stroke-dasharray="2 7.818"/>
<path d="M301 821 V83.3" stroke-dasharray="2 7.53"/>
<path d="M358.86 821 V83.3" stroke-dasharray="2 7.53"/>
<path d="M416.72 821 V83.3" stroke-dasharray="2 7.53"/>
<path d="M474.58 821 V83.3" stroke-dasharray="2 7.53"/>
<path d="M532.44 821 V83.3" stroke-dasharray="2 7.53"/>
<path d="M590.3 821 V83.3" stroke-dasharray="2 7.53"/>
<path d="M648.16 821 V83.3" stroke-dasharray="2 7.53"/>
<path d="M706.02 821 V83.3" stroke-dasharray="2 7.53"/>
<path d="M763.88 821 V83.3" stroke-dasharray="2 7.53"/>
<path d="M821.74 821 V83.3" stroke-dasharray="2 7.53"/>
<path d="M879.6 821 V83.3" stroke-dasharray="2 7.53"/>
</g>
<g clip-path="url(#fr)" stroke="#000" stroke-width="1.15" fill="none" stroke-linejoin="round" stroke-linecap="round">
<path d="M278 79.5L287.5 95L295.2 101.5L300.2 111.8L303.7 121.8L322.5 129.5L325.7 139.7L317.5 135.7L310.7 141.5L317.5 147.7L322.5 155.5L317.5 163.5L307 161.5L298.8 165.5L291.6 159.7L278 171.2L295 179.25L308.75 191.5L318.75 189.5L325.75 195.75L327.5 207.5L327.5 221.25L324.25 233.75L332.5 229.5L329.5 239.5L321.25 243L313.75 249.25L303.75 251.5L300.5 261.25L305.5 271.25L301.25 278.25L294.5 284.5L288 293.25L293.75 301.75L291.25 313.75L293.25 325.75L298.75 333.75L305.5 353.75L330.75 393.25L348 401.25L360 401.25L380 404.5L389.5 409.25L403.25 420.75L428.75 461.25L437.5 465L444.5 445L452.5 441.25L455 429.25L464.5 431.25L475 415L481.75 409.5L471.75 411.25L468.75 400L468.75 385L456.25 385L449.5 379.25L438.75 376.75L430.75 373.25L420 356.75L411.75 351.25L406.75 315L399.5 309.5L405.5 313L406.75 315L416.75 331.25L425 335L435.5 333.25L440.75 341.25L450.75 343.25L456.25 351.25L464.5 355.25L470.5 363L478.75 368.75L486.75 373L497.5 375.5L488.75 379.25L499.25 377L505.5 383L507.5 395L515 401.25L525 416.75L525 431.25L519.5 439.5L518 450.75L525 456.25L530 465L536.25 470L543.75 479.25L550 478L555 477L563.75 478.75L573 483L591.25 486.75L610.5 495L620.75 510.75L630.5 513L646.25 520L658 524.5L671.75 536.25L677.5 545L686.25 549.5L692.5 555L697.5 562.5L705 569.25L710 579.25L717 585L722 593L725.5 603L722 612.5L723.75 624.5L728.75 632.5L722.5 637.5L716.75 646.25L727.5 644.25L718.75 648.75L716.75 661.25L710 666.25L703 672.5L699.5 682.5L710 698L723.75 710.5L728.75 718.75L737.5 722.5L749.25 720.5L783.75 736.25L788.75 728.75L788.75 713.75L785 703.75L780 697L763.75 689.25L758.75 681.25L751.25 660.75L772.5 657L777.5 663.75L783.75 672.5L797.5 679.25L800 680.8L810.8 682.5L817.5 688.7L806.7 689.2L811.3 696.7L821.3 698.8L813 702.5L818.3 711.7L821.3 723.3L816.2 730.8L814.5 742.5L823.3 750.8L833.3 756.7L841.7 763.3L853.3 780L860.8 799.2L860.8 814.2L867.5 814.2L869.5 802.5L866.2 792.5L866.2 776.7L867.5 766.7L872.5 758.3L880 755L891.7 750L900 748.3L900 748.38L911.11 750.78L920.89 753L929.78 757L937.6 758.6"/>
<path d="M322.5 129.5L326 120L331.5 111.5L334.5 102L344.5 99.5L358.75 111.25L367.5 115.5L387 119.5L473.25 159.25L481.25 156.25L496.25 143.75L503.75 140L512 133.25L519.5 129.5L526.25 135.75L538.25 135.75L545 142L550 143.75L553.75 145.5L560.5 153.75L569.5 157.5L576.25 151.75L579.5 147.5L583.25 158L588.25 165.5L605 173L608.25 182.5L610.5 195.5L622.5 195.5L630.75 199.5L639.5 195.5L648.25 200L662 211.5L671.25 210L680.5 206.25L689.5 199.5L699.5 197.5L707.5 193.75L715 187.5L712 163"/>
<path d="M326.25 79.5L333.75 86.25L350 93.75L355 101.75L372.5 109.5L387.5 112.5L393.75 114.25L401.25 117.5L408.25 123.25L418.75 125.5L430 125.5L440.5 127.5L457.5 135.5L470 135.5L478.75 139.5L488.75 137.5L495 132.5L498.75 122L497.5 110L499.25 98L496.25 88.75L490.75 79.5"/>
<path d="M450.2 101L456.4 109.5L447.4 113.7L449.8 101L450.2 101"/>
<path d="M422 343.25L432.5 345.75L437 353L427.5 355.25L420.5 349.25L422 343.25"/>
<path d="M673.75 79.5L675 92.5L677.5 107.5L683.75 126.25L690 138L699.5 153L703 163.75L713 161.75L717 163.75L721.25 171.25L725 181.25L728.75 191.75L723.75 183.75L723.75 197.5L720.5 207L728.25 203.75L734.25 212L735.75 222.5L742.5 243L747.5 251.25L750.75 260L756.25 270L759.5 278.75L769.5 294.5L785 319.25L792 325.5L817.5 365L824.5 371.25L835 369.25L838.75 379.25L838.75 379.25L869.5 427.5L878.25 431.25L880.75 440L886.75 449.5L895.5 453L915.75 457L921.25 465.5L937.5 479"/>
<path d="M926.25 469.25L921.25 471.25L917.5 480.75L908.75 485L895.5 473L889.5 465L880.75 461.25L872 463.25L865.75 471.25L872.5 485L867 485L858.75 488.75L854 497.5L854 581.25L865 583.75L873.75 588.75L880 595L888.75 600L895 609.25L890.5 620L882.5 625.5L868 632.5L863.75 643.25L857.5 648.25L860 657.5L871.25 675L871.7 680L874.2 693.3L874.5 712.5L870 720L862.5 726.3L852 728.7L846.7 735.8L840 741.7L831.7 746.7L841.7 758.3L854.2 765L856.7 778.3L862.5 797.5L862.5 814.2"/>
</g>
<rect x="262.6" y="79.3" width="674.9" height="741.1" fill="none" stroke="#000" stroke-width="1.45" stroke-linejoin="round"/>
<path d="M257.2 124.33H262.6M257.2 191.7H262.6M257.2 259.07H262.6M257.2 326.44H262.6M257.2 393.81H262.6M257.2 461.18H262.6M257.2 528.55H262.6M257.2 595.92H262.6M257.2 663.29H262.6M257.2 730.66H262.6M257.2 798.03H262.6M301 820.4V825.6M358.86 820.4V825.6M416.72 820.4V825.6M474.58 820.4V825.6M532.44 820.4V825.6M590.3 820.4V825.6M648.16 820.4V825.6M706.02 820.4V825.6M763.88 820.4V825.6M821.74 820.4V825.6M879.6 820.4V825.6" stroke="#000" stroke-width="1.4" fill="none"/>
<g class="ax">
<text transform="translate(0 130.38) scale(0.89 1)" x="234.99 245.73 256.58 261.85 271.62" font-size="18.3">11.1N</text>
<text transform="translate(0 197.75) scale(0.89 1)" x="234.99 245.96 256.58 262.03 271.62" font-size="18.3">10.8N</text>
<text transform="translate(0 265.12) scale(0.89 1)" x="234.99 245.96 256.58 262.07 271.62" font-size="18.3">10.5N</text>
<text transform="translate(0 332.49) scale(0.89 1)" x="234.99 245.96 256.58 262.07 271.62" font-size="18.3">10.2N</text>
<text transform="translate(0 399.86) scale(0.89 1)" x="245.96 256.58 262.07 271.62" font-size="18.3">9.9N</text>
<text transform="translate(0 467.23) scale(0.89 1)" x="245.96 256.58 262.03 271.62" font-size="18.3">9.6N</text>
<text transform="translate(0 534.6) scale(0.89 1)" x="245.96 256.58 262.12 271.62" font-size="18.3">9.3N</text>
<text transform="translate(0 601.97) scale(0.89 1)" x="262.07 271.62" font-size="18.3">9N</text>
<text transform="translate(0 669.34) scale(0.89 1)" x="245.92 256.58 262.07 271.62" font-size="18.3">8.7N</text>
<text transform="translate(0 736.71) scale(0.89 1)" x="245.92 256.58 262.39 271.62" font-size="18.3">8.4N</text>
<text transform="translate(0 804.08) scale(0.89 1)" x="245.92 256.58 261.85 271.62" font-size="18.3">8.1N</text>
<text transform="translate(0 841) scale(0.85 1)" x="328.49 339.53 350.36 355.96 365.55" font-size="18.5">85.8W</text>
<text transform="translate(0 841) scale(0.85 1)" x="396.56 407.6 418.43 424.08 433.62" font-size="18.5">85.5W</text>
<text transform="translate(0 841) scale(0.85 1)" x="464.63 475.67 486.5 492.15 501.69" font-size="18.5">85.2W</text>
<text transform="translate(0 841) scale(0.85 1)" x="532.7 544.06 554.57 560.22 569.76" font-size="18.5">84.9W</text>
<text transform="translate(0 841) scale(0.85 1)" x="600.77 612.13 622.64 628.24 637.83" font-size="18.5">84.6W</text>
<text transform="translate(0 841) scale(0.85 1)" x="668.84 680.2 690.71 696.41 705.9" font-size="18.5">84.3W</text>
<text transform="translate(0 841) scale(0.85 1)" x="745.16 756.51 765.73" font-size="18.5">84W</text>
<text transform="translate(0 841) scale(0.85 1)" x="804.99 816.07 826.85 832.5 842.04" font-size="18.5">83.7W</text>
<text transform="translate(0 841) scale(0.85 1)" x="873.06 884.14 894.92 900.89 910.11" font-size="18.5">83.4W</text>
<text transform="translate(0 841) scale(0.85 1)" x="941.13 952.21 962.99 968.41 978.18" font-size="18.5">83.1W</text>
<text transform="translate(0 841) scale(0.85 1)" x="1009.2 1020.23 1031.06 1036.67 1046.25" font-size="18.5">82.8W</text>
</g>
<g stroke="#000" stroke-width="1.45" stroke-linejoin="miter" stroke-miterlimit="10">
<path fill="#aaaaaa" d="M1057.8 132.2L1068.7 90.6L1079.6 132.2Z"/>
<rect x="1057.8" y="132.2" width="21.8" height="42.37" fill="#f5f5f5"/>
<rect x="1057.8" y="174.57" width="21.8" height="42.37" fill="#9933cc"/>
<rect x="1057.8" y="216.94" width="21.8" height="42.37" fill="#ff00ff"/>
<rect x="1057.8" y="259.31" width="21.8" height="42.37" fill="#990000"/>
<rect x="1057.8" y="301.68" width="21.8" height="42.37" fill="#cc3300"/>
<rect x="1057.8" y="344.05" width="21.8" height="42.37" fill="#ff0000"/>
<rect x="1057.8" y="386.42" width="21.8" height="42.37" fill="#ff6600"/>
<rect x="1057.8" y="428.79" width="21.8" height="42.37" fill="#ffcc00"/>
<rect x="1057.8" y="471.16" width="21.8" height="42.37" fill="#ffff00"/>
<rect x="1057.8" y="513.53" width="21.8" height="42.37" fill="#009900"/>
<rect x="1057.8" y="555.9" width="21.8" height="42.37" fill="#00cc00"/>
<rect x="1057.8" y="598.27" width="21.8" height="42.37" fill="#00ff00"/>
<rect x="1057.8" y="640.64" width="21.8" height="42.37" fill="#0000ff"/>
<rect x="1057.8" y="683.01" width="21.8" height="42.37" fill="#3399ff"/>
<rect x="1057.8" y="725.38" width="21.8" height="42.37" fill="#66ffff"/>
<path fill="#fff" d="M1057.8 767.75L1068.7 808.3L1079.6 767.75Z"/>
</g>
<g class="cb">
<text transform="translate(0 139.5) scale(1.03 1)" x="1054.01 1066.99 1079.96" font-size="20.8">200</text>
<text transform="translate(0 181.87) scale(1.03 1)" x="1053.75 1066.99 1079.96" font-size="20.8">150</text>
<text transform="translate(0 224.24) scale(1.03 1)" x="1053.75 1066.99 1079.96" font-size="20.8">120</text>
<text transform="translate(0 266.61) scale(1.03 1)" x="1053.75 1066.99 1079.96" font-size="20.8">100</text>
<text transform="translate(0 308.98) scale(1.03 1)" x="1054.01 1066.99" font-size="20.8">90</text>
<text transform="translate(0 351.35) scale(1.03 1)" x="1054.01 1066.99" font-size="20.8">75</text>
<text transform="translate(0 393.72) scale(1.03 1)" x="1053.96 1066.99" font-size="20.8">60</text>
<text transform="translate(0 436.09) scale(1.03 1)" x="1054.01 1066.99" font-size="20.8">50</text>
<text transform="translate(0 478.46) scale(1.03 1)" x="1054.39 1066.99" font-size="20.8">40</text>
<text transform="translate(0 520.83) scale(1.03 1)" x="1054.07 1066.99" font-size="20.8">30</text>
<text transform="translate(0 563.2) scale(1.03 1)" x="1054.01 1066.99" font-size="20.8">25</text>
<text transform="translate(0 605.57) scale(1.03 1)" x="1054.01 1066.99" font-size="20.8">20</text>
<text transform="translate(0 647.94) scale(1.03 1)" x="1053.75 1066.99" font-size="20.8">15</text>
<text transform="translate(0 690.31) scale(1.03 1)" x="1053.75 1066.99 1079.63 1086.44" font-size="20.8">12.5</text>
<text transform="translate(0 732.68) scale(1.03 1)" x="1054.01" font-size="20.8">7</text>
<text transform="translate(0 775.05) scale(1.03 1)" x="1054.07 1066.65 1073.47" font-size="20.8">3.5</text>
</g>
<g class="ft">
<text transform="translate(0 876.7) scale(1.05 1)" x="311.13 318.55 333.48 347 356.06 362.82 372.33 387.34 396.85" font-size="23.3">Instituto</text>
<text transform="translate(0 876.7) scale(1.05 1)" x="423.31 443.12 457.73 466.85 481.48 497.36 506.79 521.37 528.15 543.47 557.76 564.54 578.77" font-size="23.3">Meteorologico</text>
<text transform="translate(0 876.7) scale(1.05 1)" x="605.72 623.33 638.89 652.67 659.45 674.47 688.98 704.08" font-size="23.3">Nacional</text>
<text transform="translate(0 876.7) scale(1.05 1)" x="722.26 740.12 755.06 768.58 777.56" font-size="23.3">Costa</text>
<text transform="translate(0 876.7) scale(1.05 1)" x="804.69 821.93 828.72 842.42" font-size="23.3">Rica</text>
</g>
</svg></body></html>
